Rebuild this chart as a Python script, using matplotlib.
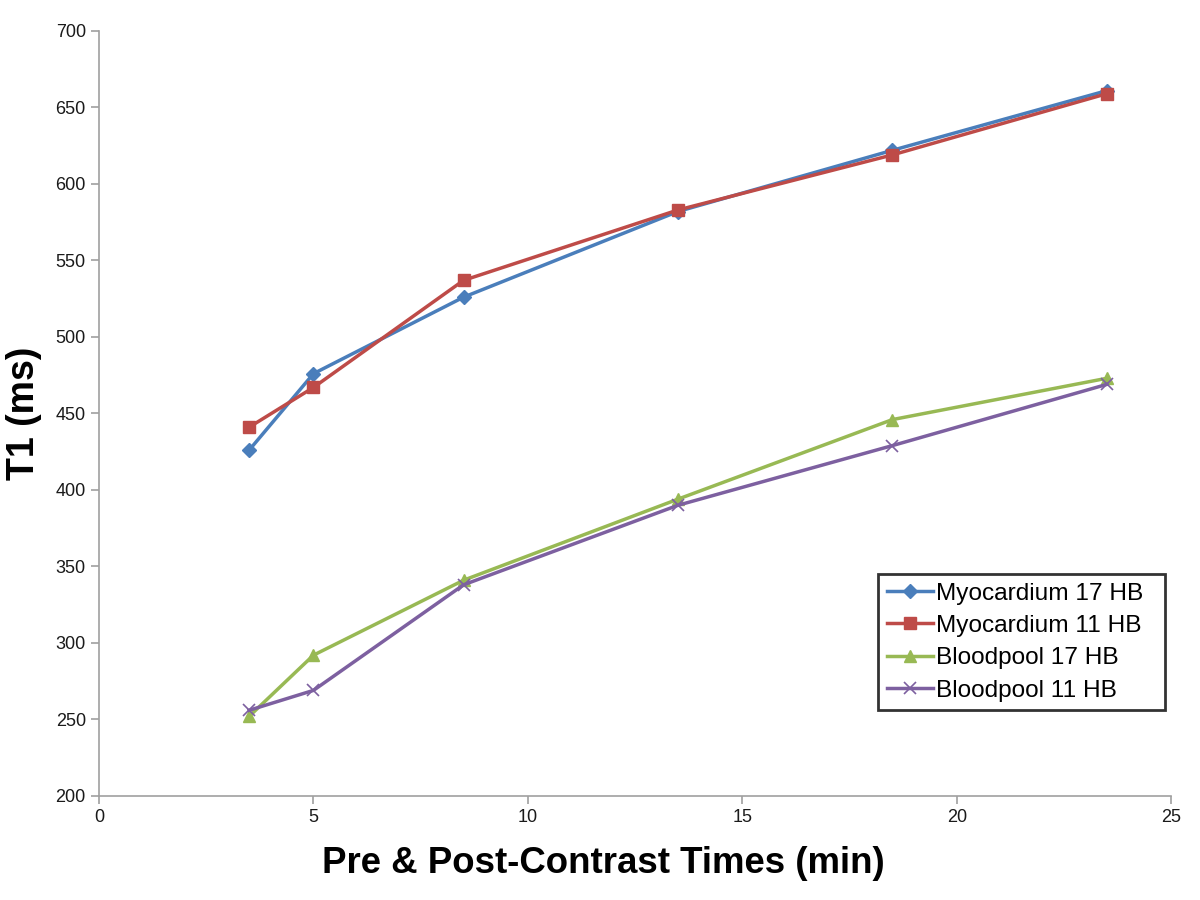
import matplotlib
matplotlib.use("Agg")
import matplotlib.pyplot as plt

plt.rcParams['font.family'] = ['Liberation Sans', 'DejaVu Sans']

# time points (min)
times = [3.5, 5, 8.5, 13.5, 18.5, 23.5]

myo_17 = [426, 476, 526, 582, 622, 661]
myo_11 = [441, 467, 537, 583, 619, 659]
blood_17 = [252, 292, 341, 394, 446, 473]
blood_11 = [256, 269, 338, 390, 429, 469]

fig = plt.figure(figsize=(12, 9), dpi=100)
ax = fig.add_axes([0.0825, 0.1156, 0.8935, 0.85])

ax.plot(times, myo_17, color='#4a7ebb', lw=2.5, marker='D', ms=7, label='Myocardium 17 HB')
ax.plot(times, myo_11, color='#be4b48', lw=2.5, marker='s', ms=9, label='Myocardium 11 HB')
ax.plot(times, blood_17, color='#98b954', lw=2.5, marker='^', ms=9, label='Bloodpool 17 HB')
ax.plot(times, blood_11, color='#7d60a0', lw=2.5, marker='x', ms=9, mew=1.2, label='Bloodpool 11 HB')

ax.set_xlim(0, 25)
ax.set_ylim(200, 700)
ax.set_xticks(range(0, 26, 5))
ax.set_yticks(range(200, 701, 50))

for s in ['top', 'right']:
    ax.spines[s].set_visible(False)
for s in ['left', 'bottom']:
    ax.spines[s].set_color('#a0a0a0')
    ax.spines[s].set_linewidth(1.2)
ax.tick_params(colors='#a0a0a0', labelcolor='#1a1a1a', labelsize=13, length=6, width=1.2)

ax.set_xlabel('Pre & Post-Contrast Times (min)', fontsize=26.4, fontweight='bold')
ax.xaxis.set_label_coords(0.47, -0.065)
ax.set_ylabel('T1 (ms)', fontsize=27, fontweight='bold', labelpad=10)

leg = ax.legend(loc='lower left', bbox_to_anchor=(0.727, 0.112, 0.267, 0.183), mode='expand',
                fontsize=17.6, frameon=True, fancybox=False, handlelength=1.9, handletextpad=0.1,
                borderpad=0.35, labelspacing=0.42, borderaxespad=0)
leg.get_frame().set_edgecolor('black')
leg.get_frame().set_linewidth(2)

fig.savefig('out.png', dpi=100)
